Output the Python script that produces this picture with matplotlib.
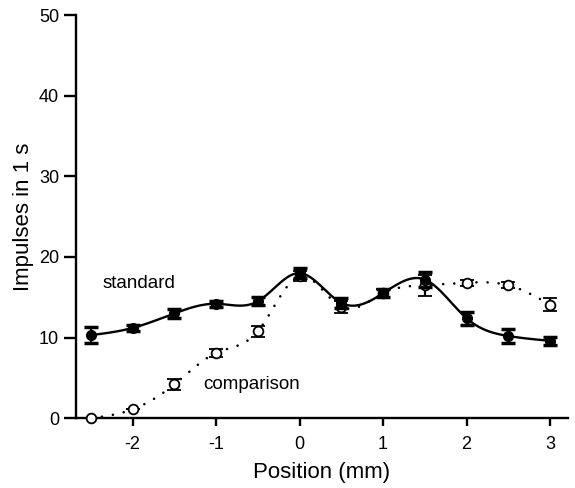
import numpy as np
import matplotlib
matplotlib.use("Agg")
import matplotlib.pyplot as plt

# positions (mm)
position = [-2.5, -2.0, -1.5, -1.0, -0.5, 0.0, 0.5, 1.0, 1.5, 2.0, 2.5, 3.0]

# standard stimulus (filled circles)
standard = [10.3, 11.2, 13.0, 14.2, 14.5, 18.0, 14.3, 15.5, 17.2, 12.4, 10.2, 9.6]
standard_err = [1.0, 0.4, 0.6, 0.4, 0.5, 0.6, 0.6, 0.5, 0.9, 0.8, 0.9, 0.5]

# comparison stimulus (open circles)
comparison = [0.0, 1.1, 4.2, 8.1, 10.8, 17.6, 13.8, 15.5, 16.5, 16.8, 16.5, 14.1]
comparison_err = [0.0, 0.0, 0.7, 0.5, 0.7, 0.6, 0.7, 0.5, 1.3, 0.4, 0.4, 0.8]


def natural_spline(x, y, n=400):
    """Natural cubic spline through (x, y), returns a fine curve for drawing."""
    x = np.asarray(x, float)
    y = np.asarray(y, float)
    k = len(x)
    h = np.diff(x)
    A = np.zeros((k, k))
    b = np.zeros(k)
    A[0, 0] = A[-1, -1] = 1.0
    for i in range(1, k - 1):
        A[i, i - 1] = h[i - 1]
        A[i, i] = 2 * (h[i - 1] + h[i])
        A[i, i + 1] = h[i]
        b[i] = 3 * ((y[i + 1] - y[i]) / h[i] - (y[i] - y[i - 1]) / h[i - 1])
    c = np.linalg.solve(A, b)
    xs = np.linspace(x[0], x[-1], n)
    idx = np.clip(np.searchsorted(x, xs) - 1, 0, k - 2)
    dx = xs - x[idx]
    hi = h[idx]
    bi = (y[idx + 1] - y[idx]) / hi - hi * (2 * c[idx] + c[idx + 1]) / 3
    di = (c[idx + 1] - c[idx]) / (3 * hi)
    ys = y[idx] + bi * dx + c[idx] * dx ** 2 + di * dx ** 3
    return xs, ys


plt.rcParams['font.family'] = ['Liberation Sans', 'DejaVu Sans']
plt.rcParams['axes.unicode_minus'] = False

fig = plt.figure(figsize=(5.75, 4.88), dpi=100)
ax = fig.add_axes([0.132, 0.143, 0.855, 0.826])

# smooth curves
sx, sy = natural_spline(position, standard)
ax.plot(sx, sy, color='black', lw=1.7, solid_capstyle='round')
cx, cy = natural_spline(position, comparison)
ax.plot(cx, cy, color='black', lw=1.9, linestyle=(0, (0.01, 4.2)),
        dash_capstyle='round')

# points with error bars
ax.errorbar(position, comparison, yerr=comparison_err, fmt='o', color='black',
            mfc='white', mec='black', mew=1.3, ms=7, capsize=5,
            capthick=2.5, elinewidth=1.6, clip_on=False, zorder=4)
ax.errorbar(position, standard, yerr=standard_err, fmt='o', color='black',
            mfc='black', mec='black', ms=7, capsize=5,
            capthick=2.5, elinewidth=1.6, clip_on=False, zorder=5)

ax.text(-2.36, 16.7, 'standard', fontsize=13.5, va='center', ha='left')
ax.text(-1.16, 4.2, 'comparison', fontsize=13.5, va='center', ha='left')

ax.set_xlim(-2.68, 3.21)
ax.set_ylim(0, 50)
ax.set_xticks([-2, -1, 0, 1, 2, 3])
ax.set_yticks([0, 10, 20, 30, 40, 50])

for side in ['top', 'right']:
    ax.spines[side].set_visible(False)
for side in ['left', 'bottom']:
    ax.spines[side].set_linewidth(1.7)

ax.tick_params(axis='both', direction='out', width=1.7, labelsize=13)
ax.tick_params(axis='y', length=9, pad=3)
ax.tick_params(axis='x', length=6, pad=7)

ax.set_xlabel('Position (mm)', fontsize=16, labelpad=6)
ax.set_ylabel('Impulses in 1 s', fontsize=16, labelpad=4)

fig.savefig('out.png', dpi=100)
